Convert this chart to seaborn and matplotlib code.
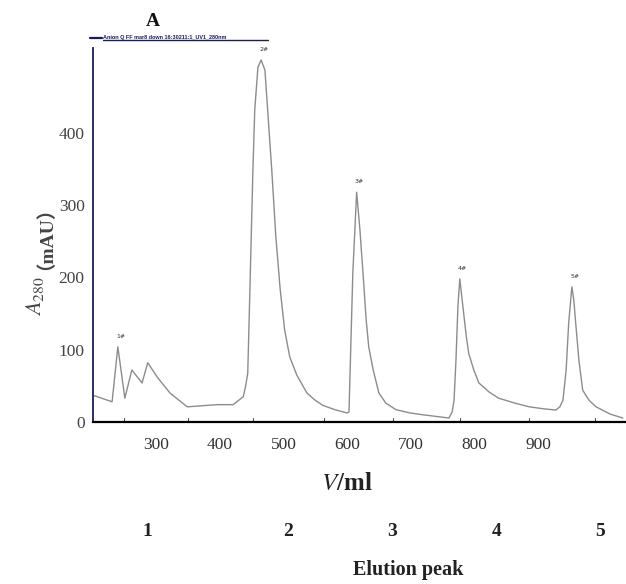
import matplotlib
matplotlib.use("Agg")
import matplotlib.pyplot as plt
from matplotlib.lines import Line2D
import seaborn as sns
import pandas as pd

# ---- data ----
volume_ml = [201, 231, 240, 251, 262, 278, 287, 302, 322, 349, 396, 421, 437, 441, 444,
             447, 452, 455, 460, 465, 471, 482, 488, 495, 502, 510, 521, 537, 550, 562, 581,
             600, 603, 609, 615, 620, 625, 630, 634, 641, 650, 661, 677, 699, 719, 760, 765,
             768, 771, 774, 777, 782, 787, 791, 799, 807, 823, 838, 864, 886, 911, 928,
             934, 939, 944, 948, 953, 956, 959, 964, 970, 980, 991, 1013, 1033]
a280_mau = [37, 28, 104, 33, 72, 54, 82, 62, 40, 21, 24, 24, 35, 51, 68,
            169, 345, 432, 491, 501, 487, 345, 258, 183, 127, 90, 65, 40, 30, 23, 17,
            12.5, 14, 206, 318, 268, 206, 141, 104, 72, 40, 26, 17, 12.5, 10, 5.5, 14,
            30, 86, 159, 198, 159, 120, 95, 72, 54, 41.5, 33, 26, 21, 18, 16.6,
            21, 30, 72, 137, 187, 169, 137, 86, 44, 30, 21, 11, 5.5]

peak_names = ["1#", "2#", "3#", "4#", "5#"]
peak_x = [240, 465, 615, 777, 953]
peak_y = [104, 501, 318, 198, 187]

x_label_vals = [300, 400, 500, 600, 700, 800, 900]
x_tick_marks = [303, 413, 515, 625, 735, 837, 944]
x_minor_marks = [250, 350, 453, 563, 672, 778, 886, 990]
y_label_vals = [0, 100, 200, 300, 400]
y_minor_marks = [48, 152, 256, 360, 464]

elution_numbers = ["1", "2", "3", "4", "5"]

df = pd.DataFrame({"V": volume_ml, "A": a280_mau})

sns.set_theme(style="white")
plt.rcParams["font.family"] = ["Liberation Serif", "Noto Sans CJK SC", "DejaVu Sans"]
plt.rcParams["mathtext.fontset"] = "stix"

W, H = 626, 584
fig = plt.figure(figsize=(W / 100, H / 100), dpi=100)
ax = fig.add_axes([93 / W, 1 - 422 / H, 1 - 93 / W, (422 - 48) / H])

sns.lineplot(data=df, x="V", y="A", ax=ax, color="#8c8c8c", linewidth=1.0)

ax.set_xlim(201, 1038)
ax.set_ylim(0, 517.6)
ax.set_xlabel("")
ax.set_ylabel("")

for s in ["top", "right"]:
    ax.spines[s].set_visible(False)
ax.spines["left"].set_color("#1c1c5c")
ax.spines["left"].set_linewidth(1.3)
ax.spines["bottom"].set_color("black")
ax.spines["bottom"].set_linewidth(1.6)

# x: labels without marks; separate marks from original instrument axis
ax.set_xticks(x_label_vals)
ax.set_xticklabels([str(v) for v in x_label_vals])
ax.tick_params(axis="x", which="major", length=0, pad=11, labelsize=12.5, labelcolor="#333333")
ax.set_xticks(x_tick_marks, minor=True)
ax.tick_params(axis="x", which="minor", direction="inout", length=10, width=1.4, color="black")
for xm in x_minor_marks:
    ax.plot([xm, xm], [0, 5], color="#555555", lw=0.8, clip_on=False)

ax.set_yticks(y_label_vals)
ax.set_yticklabels([str(v) for v in y_label_vals])
ax.tick_params(axis="y", which="major", direction="in", length=9, width=1.6, color="black",
               pad=6, labelsize=12.5, labelcolor="#444444")
ax.set_yticks(y_minor_marks, minor=True)
ax.tick_params(axis="y", which="minor", direction="in", length=3, width=1.0, color="#1c1c5c")

for name, px, py in zip(peak_names, peak_x, peak_y):
    ax.annotate(name, (px, py), xytext=(2, 6), textcoords="offset points",
                ha="center", va="bottom", fontsize=4.5, color="#333333",
                family=["DejaVu Sans"])

# texts around the axes
fig.text(153 / W, 1 - 21 / H, "A", ha="center", va="center", fontsize=14,
         fontweight="bold", color="#111111")
fig.add_artist(Line2D([90 / W, 102 / W], [1 - 37.5 / H, 1 - 37.5 / H], color="#1c1c5c", lw=1.6))
fig.text(103 / W, 1 - 38.5 / H, "Anion Q FF mar8 down 16:30211:1_UV1_280nm", ha="left",
         va="baseline", fontsize=4.0, color="#1c1c5c", fontweight="bold",
         family=["Liberation Sans"])
fig.add_artist(Line2D([103 / W, 268 / W], [1 - 39.5 / H, 1 - 39.5 / H], color="#1c1c5c", lw=1.0))

fig.text(35 / W, 1 - 296 / H, r"$A_{280}$", rotation=90, ha="center", va="center",
         fontsize=16, color="#444444")
fig.text(36 / W, 1 - 228 / H, "（mAU）", rotation=90, ha="center", va="center",
         fontsize=14, fontweight="bold", color="#444444",
         family=["Liberation Serif", "Noto Sans CJK SC"])

fig.text(347 / W, 1 - 484 / H, r"$V$/ml", ha="center", va="center", fontsize=18,
         fontweight="bold", color="#222222")

for lab, xp in zip(elution_numbers, [147, 288, 392, 497, 600]):
    fig.text(xp / W, 1 - 532 / H, lab, ha="center", va="center", fontsize=14,
             fontweight="bold", color="#222222")
fig.text(408 / W, 1 - 570 / H, "Elution peak", ha="center", va="center", fontsize=14.5,
         fontweight="bold", color="#222222")

fig.savefig("out.png", dpi=100)
